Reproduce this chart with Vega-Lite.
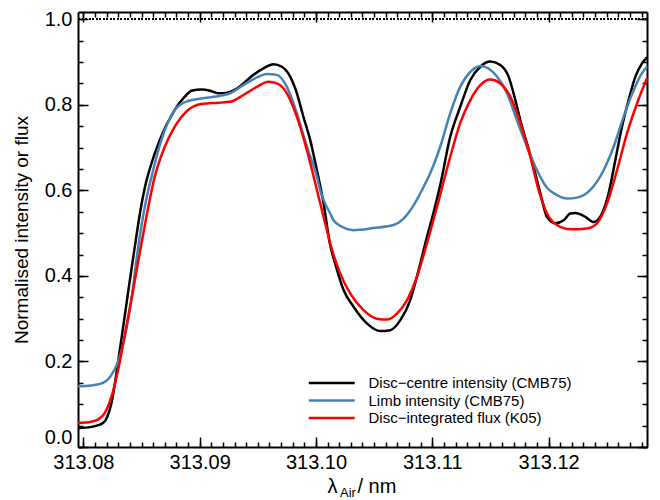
{
  "$schema": "https://vega.github.io/schema/vega-lite/v6.json",
  "width": 569,
  "height": 435,
  "autosize": "none",
  "padding": {"left": 78, "top": 12, "right": 13, "bottom": 53},
  "background": "white",
  "config": {
    "view": {"stroke": null},
    "font": "Liberation Sans",
    "axis": {
      "grid": false,
      "domainColor": "black",
      "domainWidth": 2,
      "tickColor": "black",
      "tickWidth": 1.5,
      "labelColor": "black",
      "labelFont": "Liberation Sans",
      "labelFontSize": 20,
      "labelOverlap": false,
      "labelBound": false,
      "titleColor": "black",
      "titleFont": "Liberation Sans",
      "titleFontWeight": "normal",
      "titleFontSize": 20
    }
  },
  "data": {
    "values": [
      {"s": "Disc−centre intensity (CMB75)", "x": 313.07954, "y": 0.044},
      {"s": "Disc−centre intensity (CMB75)", "x": 313.08069, "y": 0.047},
      {"s": "Disc−centre intensity (CMB75)", "x": 313.08169, "y": 0.056},
      {"s": "Disc−centre intensity (CMB75)", "x": 313.08241, "y": 0.102},
      {"s": "Disc−centre intensity (CMB75)", "x": 313.08313, "y": 0.226},
      {"s": "Disc−centre intensity (CMB75)", "x": 313.08385, "y": 0.362},
      {"s": "Disc−centre intensity (CMB75)", "x": 313.08428, "y": 0.442},
      {"s": "Disc−centre intensity (CMB75)", "x": 313.08499, "y": 0.566},
      {"s": "Disc−centre intensity (CMB75)", "x": 313.08535, "y": 0.614},
      {"s": "Disc−centre intensity (CMB75)", "x": 313.08571, "y": 0.65},
      {"s": "Disc−centre intensity (CMB75)", "x": 313.08657, "y": 0.718},
      {"s": "Disc−centre intensity (CMB75)", "x": 313.08786, "y": 0.788},
      {"s": "Disc−centre intensity (CMB75)", "x": 313.08872, "y": 0.819},
      {"s": "Disc−centre intensity (CMB75)", "x": 313.08929, "y": 0.833},
      {"s": "Disc−centre intensity (CMB75)", "x": 313.09015, "y": 0.836},
      {"s": "Disc−centre intensity (CMB75)", "x": 313.0909, "y": 0.833},
      {"s": "Disc−centre intensity (CMB75)", "x": 313.09159, "y": 0.827},
      {"s": "Disc−centre intensity (CMB75)", "x": 313.09204, "y": 0.827},
      {"s": "Disc−centre intensity (CMB75)", "x": 313.0932, "y": 0.838},
      {"s": "Disc−centre intensity (CMB75)", "x": 313.09462, "y": 0.87},
      {"s": "Disc−centre intensity (CMB75)", "x": 313.09548, "y": 0.885},
      {"s": "Disc−centre intensity (CMB75)", "x": 313.09634, "y": 0.895},
      {"s": "Disc−centre intensity (CMB75)", "x": 313.09707, "y": 0.889},
      {"s": "Disc−centre intensity (CMB75)", "x": 313.09778, "y": 0.866},
      {"s": "Disc−centre intensity (CMB75)", "x": 313.09836, "y": 0.827},
      {"s": "Disc−centre intensity (CMB75)", "x": 313.09892, "y": 0.772},
      {"s": "Disc−centre intensity (CMB75)", "x": 313.0995, "y": 0.718},
      {"s": "Disc−centre intensity (CMB75)", "x": 313.10008, "y": 0.647},
      {"s": "Disc−centre intensity (CMB75)", "x": 313.10065, "y": 0.57},
      {"s": "Disc−centre intensity (CMB75)", "x": 313.10122, "y": 0.472},
      {"s": "Disc−centre intensity (CMB75)", "x": 313.10165, "y": 0.429},
      {"s": "Disc−centre intensity (CMB75)", "x": 313.10237, "y": 0.367},
      {"s": "Disc−centre intensity (CMB75)", "x": 313.10323, "y": 0.328},
      {"s": "Disc−centre intensity (CMB75)", "x": 313.10438, "y": 0.289},
      {"s": "Disc−centre intensity (CMB75)", "x": 313.10552, "y": 0.271},
      {"s": "Disc−centre intensity (CMB75)", "x": 313.10638, "y": 0.273},
      {"s": "Disc−centre intensity (CMB75)", "x": 313.10724, "y": 0.296},
      {"s": "Disc−centre intensity (CMB75)", "x": 313.1081, "y": 0.343},
      {"s": "Disc−centre intensity (CMB75)", "x": 313.10882, "y": 0.413},
      {"s": "Disc−centre intensity (CMB75)", "x": 313.10954, "y": 0.491},
      {"s": "Disc−centre intensity (CMB75)", "x": 313.11011, "y": 0.548},
      {"s": "Disc−centre intensity (CMB75)", "x": 313.11068, "y": 0.612},
      {"s": "Disc−centre intensity (CMB75)", "x": 313.11154, "y": 0.725},
      {"s": "Disc−centre intensity (CMB75)", "x": 313.1124, "y": 0.795},
      {"s": "Disc−centre intensity (CMB75)", "x": 313.11327, "y": 0.858},
      {"s": "Disc−centre intensity (CMB75)", "x": 313.11413, "y": 0.889},
      {"s": "Disc−centre intensity (CMB75)", "x": 313.11499, "y": 0.901},
      {"s": "Disc−centre intensity (CMB75)", "x": 313.11585, "y": 0.893},
      {"s": "Disc−centre intensity (CMB75)", "x": 313.11656, "y": 0.866},
      {"s": "Disc−centre intensity (CMB75)", "x": 313.11714, "y": 0.811},
      {"s": "Disc−centre intensity (CMB75)", "x": 313.11757, "y": 0.764},
      {"s": "Disc−centre intensity (CMB75)", "x": 313.11814, "y": 0.71},
      {"s": "Disc−centre intensity (CMB75)", "x": 313.11871, "y": 0.655},
      {"s": "Disc−centre intensity (CMB75)", "x": 313.11929, "y": 0.593},
      {"s": "Disc−centre intensity (CMB75)", "x": 313.11986, "y": 0.538},
      {"s": "Disc−centre intensity (CMB75)", "x": 313.12058, "y": 0.523},
      {"s": "Disc−centre intensity (CMB75)", "x": 313.12129, "y": 0.53},
      {"s": "Disc−centre intensity (CMB75)", "x": 313.12187, "y": 0.546},
      {"s": "Disc−centre intensity (CMB75)", "x": 313.1223, "y": 0.547},
      {"s": "Disc−centre intensity (CMB75)", "x": 313.12316, "y": 0.538},
      {"s": "Disc−centre intensity (CMB75)", "x": 313.12387, "y": 0.526},
      {"s": "Disc−centre intensity (CMB75)", "x": 313.12459, "y": 0.546},
      {"s": "Disc−centre intensity (CMB75)", "x": 313.12516, "y": 0.593},
      {"s": "Disc−centre intensity (CMB75)", "x": 313.12574, "y": 0.671},
      {"s": "Disc−centre intensity (CMB75)", "x": 313.12631, "y": 0.749},
      {"s": "Disc−centre intensity (CMB75)", "x": 313.12688, "y": 0.811},
      {"s": "Disc−centre intensity (CMB75)", "x": 313.12746, "y": 0.866},
      {"s": "Disc−centre intensity (CMB75)", "x": 313.12803, "y": 0.897},
      {"s": "Disc−centre intensity (CMB75)", "x": 313.12846, "y": 0.911},
      {"s": "Limb intensity (CMB75)", "x": 313.07954, "y": 0.142},
      {"s": "Limb intensity (CMB75)", "x": 313.08069, "y": 0.144},
      {"s": "Limb intensity (CMB75)", "x": 313.08169, "y": 0.15},
      {"s": "Limb intensity (CMB75)", "x": 313.08241, "y": 0.168},
      {"s": "Limb intensity (CMB75)", "x": 313.08298, "y": 0.199},
      {"s": "Limb intensity (CMB75)", "x": 313.08356, "y": 0.257},
      {"s": "Limb intensity (CMB75)", "x": 313.08413, "y": 0.343},
      {"s": "Limb intensity (CMB75)", "x": 313.08456, "y": 0.437},
      {"s": "Limb intensity (CMB75)", "x": 313.08528, "y": 0.561},
      {"s": "Limb intensity (CMB75)", "x": 313.086, "y": 0.647},
      {"s": "Limb intensity (CMB75)", "x": 313.08671, "y": 0.718},
      {"s": "Limb intensity (CMB75)", "x": 313.08786, "y": 0.788},
      {"s": "Limb intensity (CMB75)", "x": 313.08901, "y": 0.809},
      {"s": "Limb intensity (CMB75)", "x": 313.09015, "y": 0.815},
      {"s": "Limb intensity (CMB75)", "x": 313.09159, "y": 0.82},
      {"s": "Limb intensity (CMB75)", "x": 313.09262, "y": 0.827},
      {"s": "Limb intensity (CMB75)", "x": 313.09376, "y": 0.846},
      {"s": "Limb intensity (CMB75)", "x": 313.09492, "y": 0.864},
      {"s": "Limb intensity (CMB75)", "x": 313.09578, "y": 0.872},
      {"s": "Limb intensity (CMB75)", "x": 313.09664, "y": 0.87},
      {"s": "Limb intensity (CMB75)", "x": 313.0975, "y": 0.842},
      {"s": "Limb intensity (CMB75)", "x": 313.09836, "y": 0.78},
      {"s": "Limb intensity (CMB75)", "x": 313.09922, "y": 0.702},
      {"s": "Limb intensity (CMB75)", "x": 313.10008, "y": 0.632},
      {"s": "Limb intensity (CMB75)", "x": 313.10036, "y": 0.6},
      {"s": "Limb intensity (CMB75)", "x": 313.10079, "y": 0.569},
      {"s": "Limb intensity (CMB75)", "x": 313.10122, "y": 0.546},
      {"s": "Limb intensity (CMB75)", "x": 313.10151, "y": 0.53},
      {"s": "Limb intensity (CMB75)", "x": 313.10223, "y": 0.515},
      {"s": "Limb intensity (CMB75)", "x": 313.10323, "y": 0.507},
      {"s": "Limb intensity (CMB75)", "x": 313.10495, "y": 0.512},
      {"s": "Limb intensity (CMB75)", "x": 313.10667, "y": 0.519},
      {"s": "Limb intensity (CMB75)", "x": 313.10753, "y": 0.534},
      {"s": "Limb intensity (CMB75)", "x": 313.10839, "y": 0.565},
      {"s": "Limb intensity (CMB75)", "x": 313.10925, "y": 0.608},
      {"s": "Limb intensity (CMB75)", "x": 313.10982, "y": 0.64},
      {"s": "Limb intensity (CMB75)", "x": 313.11068, "y": 0.702},
      {"s": "Limb intensity (CMB75)", "x": 313.11154, "y": 0.78},
      {"s": "Limb intensity (CMB75)", "x": 313.1124, "y": 0.842},
      {"s": "Limb intensity (CMB75)", "x": 313.11327, "y": 0.877},
      {"s": "Limb intensity (CMB75)", "x": 313.11413, "y": 0.891},
      {"s": "Limb intensity (CMB75)", "x": 313.11484, "y": 0.885},
      {"s": "Limb intensity (CMB75)", "x": 313.11556, "y": 0.866},
      {"s": "Limb intensity (CMB75)", "x": 313.11642, "y": 0.827},
      {"s": "Limb intensity (CMB75)", "x": 313.11728, "y": 0.764},
      {"s": "Limb intensity (CMB75)", "x": 313.11814, "y": 0.702},
      {"s": "Limb intensity (CMB75)", "x": 313.119, "y": 0.647},
      {"s": "Limb intensity (CMB75)", "x": 313.11986, "y": 0.606},
      {"s": "Limb intensity (CMB75)", "x": 313.12072, "y": 0.589},
      {"s": "Limb intensity (CMB75)", "x": 313.12158, "y": 0.581},
      {"s": "Limb intensity (CMB75)", "x": 313.12244, "y": 0.583},
      {"s": "Limb intensity (CMB75)", "x": 313.12359, "y": 0.601},
      {"s": "Limb intensity (CMB75)", "x": 313.12473, "y": 0.647},
      {"s": "Limb intensity (CMB75)", "x": 313.12559, "y": 0.702},
      {"s": "Limb intensity (CMB75)", "x": 313.12645, "y": 0.772},
      {"s": "Limb intensity (CMB75)", "x": 313.12731, "y": 0.834},
      {"s": "Limb intensity (CMB75)", "x": 313.12803, "y": 0.874},
      {"s": "Limb intensity (CMB75)", "x": 313.12846, "y": 0.889},
      {"s": "Disc−integrated flux (K05)", "x": 313.07954, "y": 0.056},
      {"s": "Disc−integrated flux (K05)", "x": 313.08069, "y": 0.059},
      {"s": "Disc−integrated flux (K05)", "x": 313.08169, "y": 0.074},
      {"s": "Disc−integrated flux (K05)", "x": 313.08241, "y": 0.117},
      {"s": "Disc−integrated flux (K05)", "x": 313.08298, "y": 0.179},
      {"s": "Disc−integrated flux (K05)", "x": 313.08356, "y": 0.262},
      {"s": "Disc−integrated flux (K05)", "x": 313.08428, "y": 0.367},
      {"s": "Disc−integrated flux (K05)", "x": 313.08485, "y": 0.454},
      {"s": "Disc−integrated flux (K05)", "x": 313.08542, "y": 0.538},
      {"s": "Disc−integrated flux (K05)", "x": 313.08614, "y": 0.632},
      {"s": "Disc−integrated flux (K05)", "x": 313.087, "y": 0.702},
      {"s": "Disc−integrated flux (K05)", "x": 313.08786, "y": 0.749},
      {"s": "Disc−integrated flux (K05)", "x": 313.08901, "y": 0.788},
      {"s": "Disc−integrated flux (K05)", "x": 313.09015, "y": 0.802},
      {"s": "Disc−integrated flux (K05)", "x": 313.09159, "y": 0.805},
      {"s": "Disc−integrated flux (K05)", "x": 313.09262, "y": 0.807},
      {"s": "Disc−integrated flux (K05)", "x": 313.09376, "y": 0.823},
      {"s": "Disc−integrated flux (K05)", "x": 313.09492, "y": 0.842},
      {"s": "Disc−integrated flux (K05)", "x": 313.09591, "y": 0.854},
      {"s": "Disc−integrated flux (K05)", "x": 313.09664, "y": 0.85},
      {"s": "Disc−integrated flux (K05)", "x": 313.0975, "y": 0.827},
      {"s": "Disc−integrated flux (K05)", "x": 313.09836, "y": 0.772},
      {"s": "Disc−integrated flux (K05)", "x": 313.09922, "y": 0.694},
      {"s": "Disc−integrated flux (K05)", "x": 313.10008, "y": 0.601},
      {"s": "Disc−integrated flux (K05)", "x": 313.10079, "y": 0.523},
      {"s": "Disc−integrated flux (K05)", "x": 313.10137, "y": 0.462},
      {"s": "Disc−integrated flux (K05)", "x": 313.10208, "y": 0.406},
      {"s": "Disc−integrated flux (K05)", "x": 313.10294, "y": 0.359},
      {"s": "Disc−integrated flux (K05)", "x": 313.10409, "y": 0.32},
      {"s": "Disc−integrated flux (K05)", "x": 313.10524, "y": 0.3},
      {"s": "Disc−integrated flux (K05)", "x": 313.1061, "y": 0.298},
      {"s": "Disc−integrated flux (K05)", "x": 313.10696, "y": 0.312},
      {"s": "Disc−integrated flux (K05)", "x": 313.10782, "y": 0.343},
      {"s": "Disc−integrated flux (K05)", "x": 313.10868, "y": 0.398},
      {"s": "Disc−integrated flux (K05)", "x": 313.10954, "y": 0.476},
      {"s": "Disc−integrated flux (K05)", "x": 313.1104, "y": 0.561},
      {"s": "Disc−integrated flux (K05)", "x": 313.11154, "y": 0.678},
      {"s": "Disc−integrated flux (K05)", "x": 313.1124, "y": 0.757},
      {"s": "Disc−integrated flux (K05)", "x": 313.11327, "y": 0.811},
      {"s": "Disc−integrated flux (K05)", "x": 313.11413, "y": 0.846},
      {"s": "Disc−integrated flux (K05)", "x": 313.11499, "y": 0.859},
      {"s": "Disc−integrated flux (K05)", "x": 313.11585, "y": 0.85},
      {"s": "Disc−integrated flux (K05)", "x": 313.11671, "y": 0.819},
      {"s": "Disc−integrated flux (K05)", "x": 313.11757, "y": 0.757},
      {"s": "Disc−integrated flux (K05)", "x": 313.11843, "y": 0.678},
      {"s": "Disc−integrated flux (K05)", "x": 313.11914, "y": 0.601},
      {"s": "Disc−integrated flux (K05)", "x": 313.11986, "y": 0.546},
      {"s": "Disc−integrated flux (K05)", "x": 313.12072, "y": 0.519},
      {"s": "Disc−integrated flux (K05)", "x": 313.12187, "y": 0.509},
      {"s": "Disc−integrated flux (K05)", "x": 313.1233, "y": 0.511},
      {"s": "Disc−integrated flux (K05)", "x": 313.12416, "y": 0.523},
      {"s": "Disc−integrated flux (K05)", "x": 313.12502, "y": 0.569},
      {"s": "Disc−integrated flux (K05)", "x": 313.12588, "y": 0.647},
      {"s": "Disc−integrated flux (K05)", "x": 313.12674, "y": 0.733},
      {"s": "Disc−integrated flux (K05)", "x": 313.1276, "y": 0.803},
      {"s": "Disc−integrated flux (K05)", "x": 313.12846, "y": 0.862}
    ]
  },
  "resolve": {"axis": {"x": "independent", "y": "independent"}},
  "layer": [
    {
      "mark": {"type": "rule", "strokeDash": [1.5, 2], "strokeWidth": 1.5, "color": "black"},
      "encoding": {
        "y": {"datum": 1.0, "type": "quantitative", "scale": {"domain": [0, 1.017], "nice": false, "zero": false}, "axis": null}
      }
    },
    {
      "mark": {"type": "line", "strokeWidth": 2.5, "interpolate": "monotone"},
      "encoding": {
        "x": {"field": "x", "type": "quantitative",
          "scale": {"domain": [313.07954, 313.12846], "nice": false, "zero": false},
          "axis": {"orient": "bottom", "values": [313.08, 313.09, 313.10, 313.11, 313.12], "format": ".2f",
            "tickSize": -10, "labelPadding": 15.5, "labelFlush": false,
            "title": "λ", "titleX": 249, "titleY": 45, "titleAlign": "left", "titleBaseline": "alphabetic", "titleAngle": 0}},
        "y": {"field": "y", "type": "quantitative",
          "scale": {"domain": [0, 1.017], "nice": false, "zero": false},
          "axis": {"orient": "left", "values": [0, 0.2, 0.4, 0.6, 0.8, 1.0], "format": ".1f",
            "tickSize": -10, "labelPadding": 16, "labelFlush": true,
            "title": "Normalised intensity or flux", "titleFontSize": 19,
            "titleX": -57, "titleY": 217.5, "titleAngle": -90, "titleAlign": "center", "titleBaseline": "middle"}},
        "color": {"field": "s", "type": "nominal",
          "scale": {"domain": ["Disc−centre intensity (CMB75)", "Limb intensity (CMB75)", "Disc−integrated flux (K05)"],
                    "range": ["#000000", "#4682b4", "#ff0000"]},
          "legend": {"title": null, "orient": "none", "legendX": 246.25, "legendY": 363.5,
            "symbolType": "M-4,0H4", "symbolSize": 132, "symbolStrokeWidth": 2.5,
            "labelFont": "Liberation Sans", "labelFontSize": 15, "labelColor": "black", "labelLimit": 400,
            "labelOffset": 29.25, "rowPadding": 1.5, "padding": 0}}
      }
    },
    {
      "mark": {"type": "line", "strokeOpacity": 0},
      "encoding": {
        "x": {"field": "x", "type": "quantitative",
          "axis": {"orient": "top", "values": [313.08, 313.09, 313.10, 313.11, 313.12], "labels": false, "tickSize": -10, "title": null}},
        "y": {"field": "y", "type": "quantitative",
          "axis": {"orient": "right", "values": [0, 0.2, 0.4, 0.6, 0.8, 1.0], "labels": false, "tickSize": -10, "title": null}},
        "detail": {"field": "s"}
      }
    },
    {
      "mark": {"type": "line", "strokeOpacity": 0},
      "encoding": {
        "x": {"field": "x", "type": "quantitative",
          "axis": {"orient": "bottom", "values": [313.080, 313.081, 313.082, 313.083, 313.084, 313.085, 313.086, 313.087, 313.088, 313.089, 313.090, 313.091, 313.092, 313.093, 313.094, 313.095, 313.096, 313.097, 313.098, 313.099, 313.100, 313.101, 313.102, 313.103, 313.104, 313.105, 313.106, 313.107, 313.108, 313.109, 313.110, 313.111, 313.112, 313.113, 313.114, 313.115, 313.116, 313.117, 313.118, 313.119, 313.120, 313.121, 313.122, 313.123, 313.124, 313.125, 313.126, 313.127, 313.128],
            "labels": false, "domain": false, "tickSize": -5,
            "title": "Air", "titleFontSize": 13, "titleX": 261.5, "titleY": 49.5, "titleAlign": "left", "titleBaseline": "alphabetic"}},
        "y": {"field": "y", "type": "quantitative",
          "axis": {"orient": "left", "values": [0, 0.05, 0.1, 0.15, 0.2, 0.25, 0.3, 0.35, 0.4, 0.45, 0.5, 0.55, 0.6, 0.65, 0.7, 0.75, 0.8, 0.85, 0.9, 0.95, 1.0],
            "labels": false, "domain": false, "tickSize": -5, "title": null}},
        "detail": {"field": "s"}
      }
    },
    {
      "mark": {"type": "line", "strokeOpacity": 0},
      "encoding": {
        "x": {"field": "x", "type": "quantitative",
          "axis": {"orient": "top", "values": [313.080, 313.081, 313.082, 313.083, 313.084, 313.085, 313.086, 313.087, 313.088, 313.089, 313.090, 313.091, 313.092, 313.093, 313.094, 313.095, 313.096, 313.097, 313.098, 313.099, 313.100, 313.101, 313.102, 313.103, 313.104, 313.105, 313.106, 313.107, 313.108, 313.109, 313.110, 313.111, 313.112, 313.113, 313.114, 313.115, 313.116, 313.117, 313.118, 313.119, 313.120, 313.121, 313.122, 313.123, 313.124, 313.125, 313.126, 313.127, 313.128],
            "labels": false, "domain": false, "tickSize": -5, "title": null}},
        "y": {"field": "y", "type": "quantitative",
          "axis": {"orient": "right", "values": [0, 0.05, 0.1, 0.15, 0.2, 0.25, 0.3, 0.35, 0.4, 0.45, 0.5, 0.55, 0.6, 0.65, 0.7, 0.75, 0.8, 0.85, 0.9, 0.95, 1.0],
            "labels": false, "domain": false, "tickSize": -5, "title": null}},
        "detail": {"field": "s"}
      }
    },
    {
      "mark": {"type": "line", "strokeOpacity": 0},
      "encoding": {
        "x": {"field": "x", "type": "quantitative",
          "axis": {"orient": "bottom", "labels": false, "domain": false, "ticks": false,
            "title": "/ nm", "titleX": 279, "titleY": 45, "titleAlign": "left", "titleBaseline": "alphabetic"}},
        "y": {"field": "y", "type": "quantitative", "axis": null},
        "detail": {"field": "s"}
      }
    }
  ]
}
